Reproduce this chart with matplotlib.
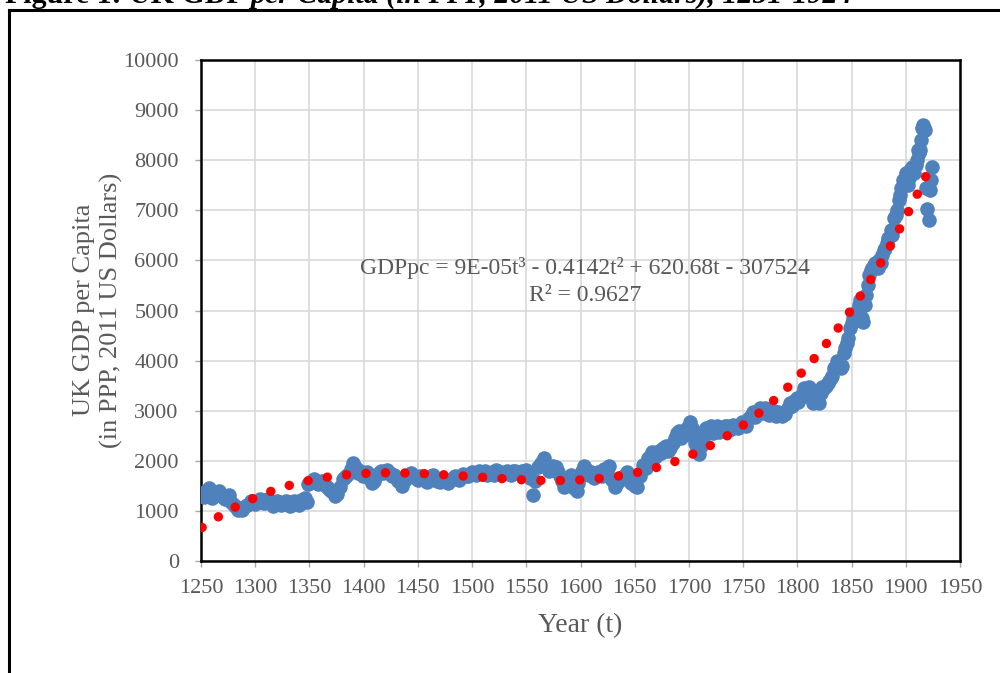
import numpy as np
import matplotlib.pyplot as plt
from matplotlib.lines import Line2D

# UK GDP per capita (PPP, 2011 US$)
years = [1251, 1253, 1255, 1257, 1258, 1260, 1262, 1265, 1267, 1270,
         1272, 1274, 1276, 1278, 1280, 1282, 1284, 1286, 1288, 1290,
         1292, 1294, 1296, 1298, 1300, 1302, 1304, 1306, 1308, 1310,
         1312, 1314, 1316, 1318, 1320, 1322, 1324, 1326, 1328, 1330,
         1332, 1334, 1336, 1338, 1340, 1342, 1344, 1346, 1348, 1349,
         1350, 1352, 1354, 1356, 1358, 1360, 1362, 1364, 1366, 1368,
         1370, 1372, 1374, 1375, 1378, 1381, 1383, 1385, 1388, 1390,
         1391, 1393, 1395, 1397, 1399, 1401, 1403, 1405, 1408, 1410,
         1412, 1414, 1416, 1418, 1420, 1422, 1424, 1426, 1428, 1430,
         1432, 1434, 1435, 1438, 1440, 1442, 1444, 1446, 1448, 1450,
         1452, 1454, 1456, 1458, 1460, 1462, 1464, 1466, 1468, 1470,
         1472, 1474, 1476, 1478, 1480, 1482, 1484, 1486, 1488, 1490,
         1492, 1494, 1496, 1498, 1500, 1502, 1504, 1506, 1508, 1510,
         1512, 1514, 1516, 1518, 1520, 1522, 1524, 1526, 1528, 1530,
         1532, 1534, 1536, 1538, 1540, 1542, 1544, 1546, 1548, 1550,
         1553, 1556, 1558, 1561, 1564, 1566, 1569, 1571, 1573, 1575,
         1577, 1579, 1581, 1583, 1585, 1588, 1591, 1592, 1594, 1597,
         1598, 1600, 1601, 1603, 1606, 1608, 1610, 1612, 1614, 1616,
         1618, 1620, 1622, 1624, 1626, 1629, 1632, 1634, 1636, 1638,
         1640, 1643, 1645, 1647, 1650, 1652, 1655, 1658, 1660, 1662,
         1664, 1666, 1668, 1670, 1672, 1674, 1676, 1679, 1681, 1683,
         1685, 1687, 1689, 1691, 1693, 1694, 1696, 1698, 1700, 1701,
         1703, 1704, 1706, 1707, 1709, 1711, 1712, 1714, 1716, 1718,
         1720, 1722, 1724, 1726, 1728, 1730, 1731, 1733, 1735, 1737,
         1739, 1741, 1743, 1745, 1747, 1749, 1751, 1753, 1755, 1757,
         1759, 1761, 1763, 1766, 1768, 1770, 1772, 1774, 1776, 1778,
         1780, 1782, 1784, 1786, 1789, 1791, 1793, 1795, 1797, 1800,
         1801, 1803, 1805, 1806, 1808, 1809, 1811, 1812, 1814, 1816,
         1817, 1819, 1820, 1822, 1823, 1825, 1826, 1828, 1829, 1831,
         1832, 1834, 1835, 1837, 1838, 1840, 1841, 1843, 1844, 1846,
         1847, 1849, 1850, 1851, 1852, 1854, 1855, 1857, 1858, 1860,
         1861, 1862, 1863, 1865, 1866, 1868, 1869, 1871, 1872, 1874,
         1875, 1877, 1878, 1880, 1881, 1883, 1884, 1886, 1887, 1889,
         1891, 1892, 1894, 1895, 1896, 1897, 1898, 1899, 1900, 1901,
         1902, 1903, 1904, 1905, 1906, 1907, 1908, 1909, 1910, 1911,
         1912, 1913, 1914, 1915, 1916, 1917, 1918, 1919, 1920, 1921,
         1922, 1923, 1924]
gdp_pc = [1330, 1270, 1400, 1460, 1380, 1260, 1300, 1350, 1390, 1280,
          1230, 1260, 1310, 1180, 1120, 1080, 1020, 1050, 1010, 1070,
          1110, 1130, 1200, 1170, 1140, 1180, 1230, 1210, 1150, 1190,
          1230, 1150, 1100, 1130, 1200, 1170, 1120, 1160, 1200, 1180,
          1100, 1130, 1190, 1150, 1120, 1220, 1180, 1260, 1180, 1530,
          1560, 1600, 1640, 1590, 1540, 1570, 1600, 1520, 1480, 1440,
          1400, 1380, 1300, 1340, 1480, 1630, 1680, 1720, 1830, 1960,
          1900, 1850, 1760, 1790, 1700, 1720, 1780, 1650, 1560, 1600,
          1720, 1760, 1800, 1750, 1790, 1820, 1760, 1700, 1720, 1660,
          1600, 1560, 1500, 1620, 1680, 1720, 1760, 1700, 1650, 1620,
          1700, 1660, 1620, 1580, 1640, 1700, 1720, 1650, 1600, 1580,
          1640, 1620, 1590, 1560, 1620, 1650, 1700, 1640, 1620, 1680,
          1740, 1700, 1690, 1740, 1780, 1760, 1720, 1800, 1760, 1780,
          1800, 1720, 1750, 1770, 1720, 1820, 1800, 1780, 1730, 1760,
          1790, 1740, 1720, 1790, 1800, 1760, 1740, 1800, 1780, 1820,
          1650, 1310, 1600, 1880, 1960, 2050, 1880, 1800, 1840, 1900,
          1880, 1780, 1700, 1600, 1480, 1650, 1720, 1600, 1460, 1400,
          1550, 1700, 1800, 1900, 1820, 1720, 1780, 1650, 1700, 1780,
          1750, 1700, 1840, 1800, 1900, 1620, 1480, 1560, 1620, 1680,
          1700, 1780, 1650, 1560, 1500, 1480, 1700, 1920, 1850, 2050,
          1980, 2170, 2050, 2100, 2200, 2150, 2250, 2300, 2200, 2250,
          2350, 2450, 2550, 2600, 2450, 2500, 2600, 2650, 2550, 2780,
          2650, 2500, 2350, 2250, 2130, 2300, 2450, 2600, 2650, 2550,
          2700, 2550, 2600, 2700, 2580, 2650, 2600, 2700, 2700, 2620,
          2640, 2720, 2680, 2650, 2700, 2780, 2760, 2700, 2850, 2900,
          2970, 2880, 2950, 3050, 2950, 3050, 2980, 2920, 2950, 3000,
          2900, 2980, 2960, 2900, 2940, 3050, 3150, 3100, 3200, 3250,
          3180, 3300, 3350, 3450, 3300, 3400, 3470, 3300, 3150, 3250,
          3350, 3400, 3150, 3350, 3470, 3450, 3500, 3550, 3600, 3650,
          3700, 3850, 3880, 4000, 3950, 3850, 3900, 4150, 4250, 4350,
          4450, 4650, 4750, 4850, 4900, 4950, 5000, 5100, 5200, 4850,
          4780, 5100, 5300, 5500, 5700, 5800, 5850, 5900, 5950, 5850,
          6000, 5950, 6100, 6200, 6250, 6350, 6450, 6600, 6500, 6850,
          6900, 7000, 7200, 7300, 7450, 7600, 7550, 7650, 7740, 7550,
          7500, 7650, 7800, 7750, 7870, 7800, 7750, 7900, 8000, 8200,
          8150, 8200, 8400, 8650, 8700, 8650, 8600, 7450, 7030, 6800,
          7400, 7600, 7870]

x_ticks = list(range(1250, 1951, 50))
y_ticks = list(range(0, 10001, 1000))

equation = "GDPpc = 9E-05t³ - 0.4142t² + 620.68t - 307524"
r_squared = "R² = 0.9627"

plt.rcParams['font.family'] = ['Liberation Serif', 'DejaVu Serif']
text_grey = '#595959'

fig = plt.figure(figsize=(10, 6.73), dpi=100)
ax = fig.add_axes([0.201, 1 - 561 / 673, 0.759, 501 / 673])

# data points
ax.plot(years, gdp_pc, 'o', ms=10.5, color='#4F81BD', mec='none', zorder=3)

# cubic trendline; weight by year spacing so it behaves like an annual fit
yr = np.array(years)
coef = np.polyfit(yr - 1600, gdp_pc, 3, w=np.sqrt(np.gradient(yr)))
t = np.arange(1251, 1925)
ax.plot(t, np.polyval(coef, t - 1600), color='red', lw=6.8,
        dashes=(0.01, 2.05), dash_capstyle='round', zorder=4)

ax.set_xlim(1250, 1950)
ax.set_ylim(0, 10000)
ax.set_xticks(x_ticks)
ax.set_yticks(y_ticks)
ax.grid(True, color='#D9D9D9', lw=1.2, zorder=0)
ax.set_axisbelow(True)
ax.tick_params(labelsize=16, labelcolor=text_grey, color='#A6A6A6',
               length=4, width=1)
ax.tick_params(axis='x', pad=9)
ax.tick_params(axis='y', pad=12)
for side in ax.spines:
    ax.spines[side].set_color('black')
    ax.spines[side].set_linewidth(1.8)

ax.text(0.506, 0.585, equation, transform=ax.transAxes, fontsize=17,
        color=text_grey, ha='center', va='center')
ax.text(0.506, 0.53, r_squared, transform=ax.transAxes, fontsize=17,
        color=text_grey, ha='center', va='center')

fig.text(0.5805, 1 - 626 / 673, "Year (t)", fontsize=20, color=text_grey,
         ha='center', va='center')
fig.text(0.098, 1 - 310 / 673, "UK GDP per Capita\n(in PPP, 2011 US Dollars)",
         fontsize=19, color=text_grey, ha='center', va='center',
         rotation=90, multialignment='center', linespacing=1.25)

# outer frame, running off the right and bottom of the image
y_top = 1 - 10 / 673
fig.add_artist(Line2D([0.009, 0.009], [-0.1, y_top], color='black', lw=2.2))
fig.add_artist(Line2D([0.009, 1.1], [y_top, y_top], color='black', lw=2.2))

# caption above the frame, cut off by the top edge as in the original
renderer = fig.canvas.get_renderer()
cap1 = fig.text(0.005, 1 - 3 / 673, "Figure 1: UK GDP ", fontsize=21.5,
                weight='bold', va='baseline')
w = cap1.get_window_extent(renderer).width / fig.bbox.width
fig.text(0.005 + w, 1 - 3 / 673,
         "per Capita (in PPP, 2011 US Dollars), 1251-1924", fontsize=21.5,
         weight='bold', style='italic', va='baseline')

fig.savefig('out.png', dpi=100)
